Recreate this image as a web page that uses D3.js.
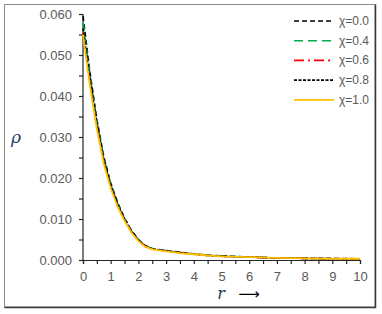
<!DOCTYPE html>
<html><head><meta charset="utf-8">
<script src="https://cdn.jsdelivr.net/npm/d3@7"></script>
<style>body{margin:0;background:#fff}svg{display:block}</style>
</head><body>
<svg id="c" width="382" height="314"></svg>
<script>
const rValues = [0, 0.25, 0.5, 0.75, 1, 1.25, 1.5, 1.75, 2, 2.25, 2.5, 3, 3.5, 4, 4.5, 5, 6, 7, 8, 9, 10];
const chi00 = [0.0595, 0.0458, 0.0343, 0.0252, 0.0188, 0.0140, 0.0102, 0.0072, 0.0050, 0.0035, 0.0028, 0.0023, 0.0019, 0.0015, 0.0012, 0.0010, 0.0007, 0.0005, 0.0004, 0.0004, 0.0003];
const chi04 = [0.0580, 0.0452, 0.0339, 0.0249, 0.0185, 0.0138, 0.0100, 0.0071, 0.0049, 0.0034, 0.0028, 0.0023, 0.0018, 0.0015, 0.0012, 0.0010, 0.0007, 0.0005, 0.0004, 0.0003, 0.0003];
const chi06 = [0.0555, 0.0436, 0.0328, 0.0242, 0.0180, 0.0134, 0.0098, 0.0069, 0.0048, 0.0033, 0.0027, 0.0022, 0.0018, 0.0014, 0.0011, 0.0009, 0.0007, 0.0005, 0.0004, 0.0003, 0.0003];
const chi08 = [0.0565, 0.0442, 0.0333, 0.0245, 0.0182, 0.0136, 0.0099, 0.0070, 0.0048, 0.0033, 0.0027, 0.0022, 0.0018, 0.0014, 0.0011, 0.0009, 0.0007, 0.0005, 0.0004, 0.0003, 0.0003];
const chi10 = [0.0550, 0.0425, 0.0320, 0.0235, 0.0175, 0.0130, 0.0095, 0.0067, 0.0046, 0.0032, 0.0026, 0.0021, 0.0017, 0.0014, 0.0011, 0.0009, 0.0007, 0.0005, 0.0004, 0.0003, 0.0003];
const seriesNames = ["χ=0.0", "χ=0.4", "χ=0.6", "χ=0.8", "χ=1.0"];
const xTicks = [0,1,2,3,4,5,6,7,8,9,10];
const yTicks = [0, 0.01, 0.02, 0.03, 0.04, 0.05, 0.06];

const series = [
  {name: seriesNames[0], values: chi00, color: "#000000", dash: "5,3", width: 1.6},
  {name: seriesNames[1], values: chi04, color: "#00b050", dash: "9,5", width: 1.6},
  {name: seriesNames[2], values: chi06, color: "#ff0000", dash: "10,4,2,4", width: 1.6},
  {name: seriesNames[3], values: chi08, color: "#000000", dash: "3,1.5", width: 1.6},
  {name: seriesNames[4], values: chi10, color: "#ffc000", dash: null, width: 1.8}
];

const svg = d3.select("#c");
const x = d3.scaleLinear().domain([0, 10]).range([83, 360]);
const y = d3.scaleLinear().domain([0, 0.06]).range([260, 14]);

// frame
svg.append("rect").attr("x", 4.5).attr("y", 4.5).attr("width", 370.5).attr("height", 302.5)
  .attr("fill", "#fff").attr("stroke", "#8c8c8c").attr("stroke-width", 1);
svg.append("path").attr("d", `M375.5,4.5V307.5H4.5`).attr("fill", "none").attr("stroke", "#3a3a3a").attr("stroke-width", 1.5);

const tickFont = "Liberation Sans, Arial, sans-serif";
// y axis
const yAxis = svg.append("g").attr("transform", "translate(83,0)")
  .call(d3.axisLeft(y).tickValues(yTicks).tickFormat(d3.format(".3f")).tickSize(4).tickPadding(7));
svg.append("g").attr("transform", "translate(83,0)")
  .call(d3.axisLeft(y).tickValues(d3.range(0.005, 0.06, 0.01)).tickFormat("").tickSize(4))
  .select(".domain").remove();
// x axis
const xAxis = svg.append("g").attr("transform", "translate(0,260)")
  .call(d3.axisBottom(x).tickValues(xTicks).tickFormat(d3.format("d")).tickSize(4).tickPadding(8));
svg.append("g").attr("transform", "translate(0,260)")
  .call(d3.axisBottom(x).tickValues(d3.range(0.5, 10, 1)).tickFormat("").tickSize(4))
  .select(".domain").remove();

svg.selectAll(".domain").attr("stroke", "#262626").attr("stroke-width", 1.2);
svg.selectAll(".tick line").attr("stroke", "#262626").attr("stroke-width", 1.2);
svg.selectAll(".tick text").attr("fill", "#595959").style("font-family", tickFont).style("font-size", "13px");
yAxis.selectAll(".domain").attr("d", `M0,${y(0.06)}V${y(0)}`);

// lines
const line = d3.line().x((d, i) => x(rValues[i])).y(d => y(d));
series.forEach(s => {
  svg.append("path").datum(s.values).attr("d", line)
    .attr("fill", "none").attr("stroke", s.color).attr("stroke-width", s.width)
    .attr("stroke-dasharray", s.dash).attr("stroke-linejoin", "round");
});

// legend
const lg = svg.append("g");
series.forEach((s, i) => {
  const yy = 21 + i * 19.7;
  lg.append("line").attr("x1", 294).attr("x2", 334).attr("y1", yy).attr("y2", yy)
    .attr("stroke", s.color).attr("stroke-width", s.width).attr("stroke-dasharray", s.dash);
  lg.append("text").attr("x", 339).attr("y", yy + 4).text(s.name)
    .attr("fill", "#595959").style("font-family", tickFont).style("font-size", "12px");
});

// axis titles
svg.append("text").attr("x", 16).attr("y", 143).attr("text-anchor", "middle").text("ρ")
  .attr("fill", "#1f3864").style("font-family", "DejaVu Serif, serif").style("font-style", "italic").style("font-size", "17px");
svg.append("text").attr("x", 221).attr("y", 299).attr("text-anchor", "middle").text("r")
  .attr("fill", "#1f3864").style("font-family", "DejaVu Serif, serif").style("font-style", "italic").style("font-size", "16px");
svg.append("text").attr("x", 249).attr("y", 299).attr("text-anchor", "middle").text("⟶")
  .attr("fill", "#000").style("font-family", "DejaVu Sans, sans-serif").style("font-size", "15px");
</script>
</body></html>
